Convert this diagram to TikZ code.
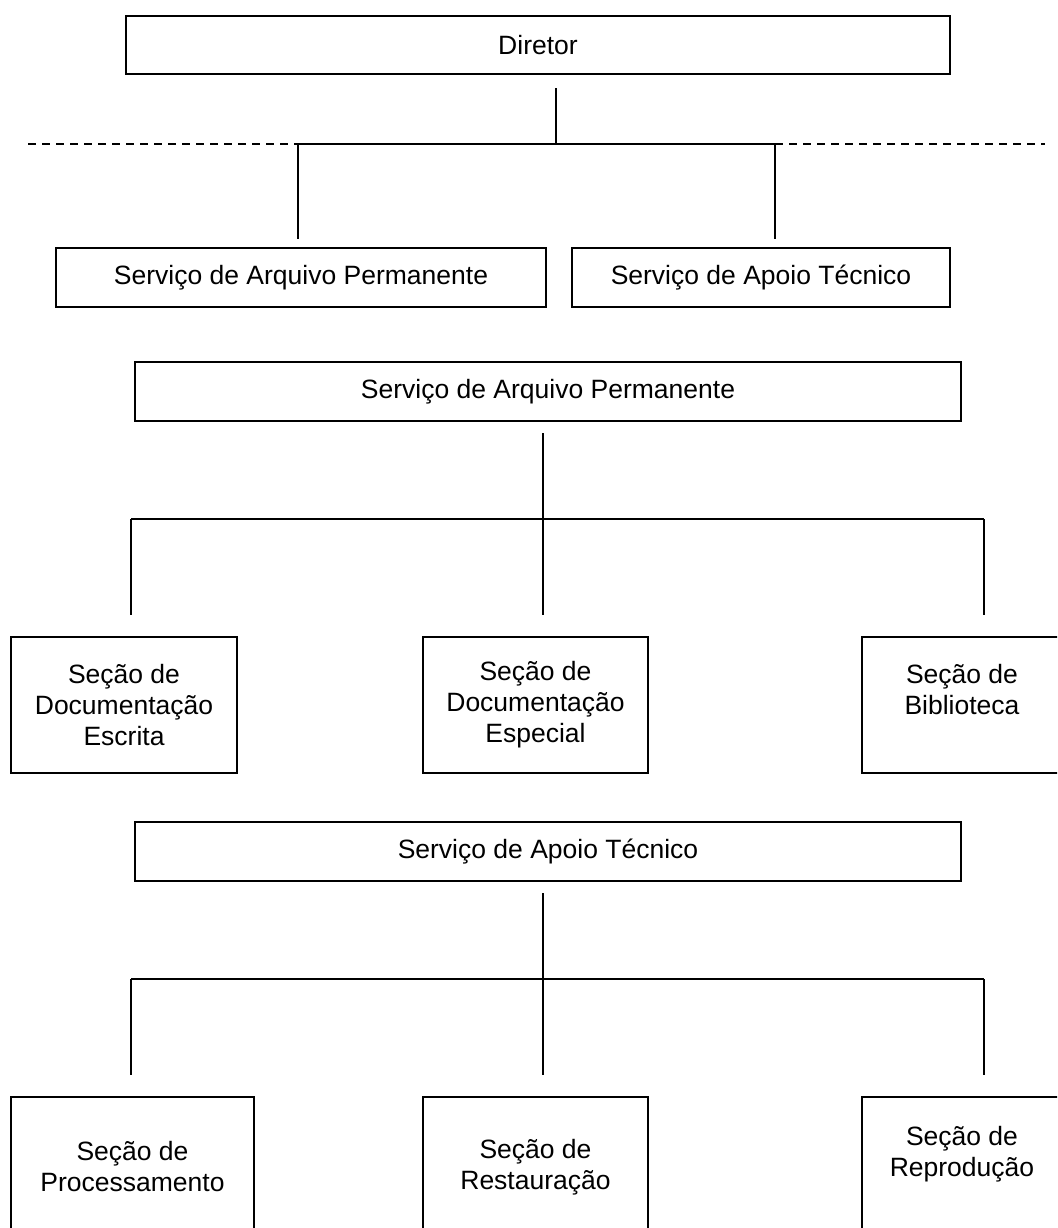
\documentclass[tikz,border=0pt]{standalone}
\usepackage{fontspec}
\setmainfont{Liberation Sans}
\usetikzlibrary{calc}

\tikzset{
	box/.style={draw, line width=1pt, inner sep=0pt, align=center,
		font=\fontsize{13.25}{15.5}\selectfont},
	link/.style={line width=0.6pt},
	bus/.style={line width=1pt},
	dashline/.style={line width=0.8pt, dash pattern=on 4pt off 3pt},
}

\begin{document}
\begin{tikzpicture}[x=0.5pt,y=-0.5pt]
	\clip (0,0) rectangle (1057,1228);
	% top level
	\node[box, minimum width=412pt, minimum height=29pt] (dir) at (538,45) {Diretor};
	\node[box, minimum width=245pt, minimum height=29.5pt] (sap) at (301,277.5) {Serviço de Arquivo Permanente};
	\node[box, minimum width=189pt, minimum height=29.5pt] (sat) at (761,277.5) {Serviço de Apoio Técnico};
	\coordinate (j0) at (556,144);
	\coordinate (j0l) at (298,144);
	\coordinate (j0r) at (775,144);
	\coordinate (dl) at (28,144);
	\coordinate (dr) at (1045,144);
	\draw[link, shorten <=6.5pt] (dir.south -| j0) -- (j0);
	\draw[bus] (j0l) -- (j0r);
	\draw[dashline] (dl) -- (j0l);
	\draw[dashline] (j0r) -- (dr);
	\draw[link, shorten >=4pt] (j0l) -- (j0l |- sap.north);
	\draw[link, shorten >=4pt] (j0r) -- (j0r |- sat.north);

	% arquivo permanente
	\node[box, minimum width=413pt, minimum height=29.5pt] (sap2) at (548,391.5) {Serviço de Arquivo Permanente};
	\node[box, minimum width=113pt, minimum height=68pt] (esc) at (124,705) {Seção de\\Documentação\\Escrita};
	\node[box, minimum width=112.5pt, minimum height=68pt] (esp) at (535.5,705) {Seção de\\Documentação\\Especial};
	\node[box, minimum width=100pt, minimum height=68pt] (bib) at (962,705) {Seção de\\Biblioteca\\~};
	\coordinate (j1) at (543,519);
	\coordinate (j1l) at (131,519);
	\coordinate (j1r) at (984,519);
	\draw[link, shorten <=5.5pt, shorten >=10.5pt] (sap2.south -| j1) -- (j1 |- esp.north);
	\draw[bus] (j1l) -- (j1r);
	\draw[link, shorten >=10.5pt] (j1l) -- (j1l |- esc.north);
	\draw[link, shorten >=10.5pt] (j1r) -- (j1r |- bib.north);

	% apoio tecnico
	\node[box, minimum width=413pt, minimum height=29.5pt] (sat2) at (548,851.5) {Serviço de Apoio Técnico};
	\node[box, minimum width=121.5pt, minimum height=70pt] (proc) at (132.5,1167) {Seção de\\Processamento};
	\node[box, minimum width=112.5pt, minimum height=70pt] (rest) at (535.5,1167) {Seção de\\Restauração};
	\node[box, minimum width=100pt, minimum height=70pt] (repr) at (962,1167) {Seção de\\Reprodução\\~};
	\coordinate (j2) at (543,979);
	\coordinate (j2l) at (131,979);
	\coordinate (j2r) at (984,979);
	\draw[link, shorten <=5.5pt, shorten >=10.5pt] (sat2.south -| j2) -- (j2 |- rest.north);
	\draw[bus] (j2l) -- (j2r);
	\draw[link, shorten >=10.5pt] (j2l) -- (j2l |- proc.north);
	\draw[link, shorten >=10.5pt] (j2r) -- (j2r |- repr.north);
\end{tikzpicture}
\end{document}
